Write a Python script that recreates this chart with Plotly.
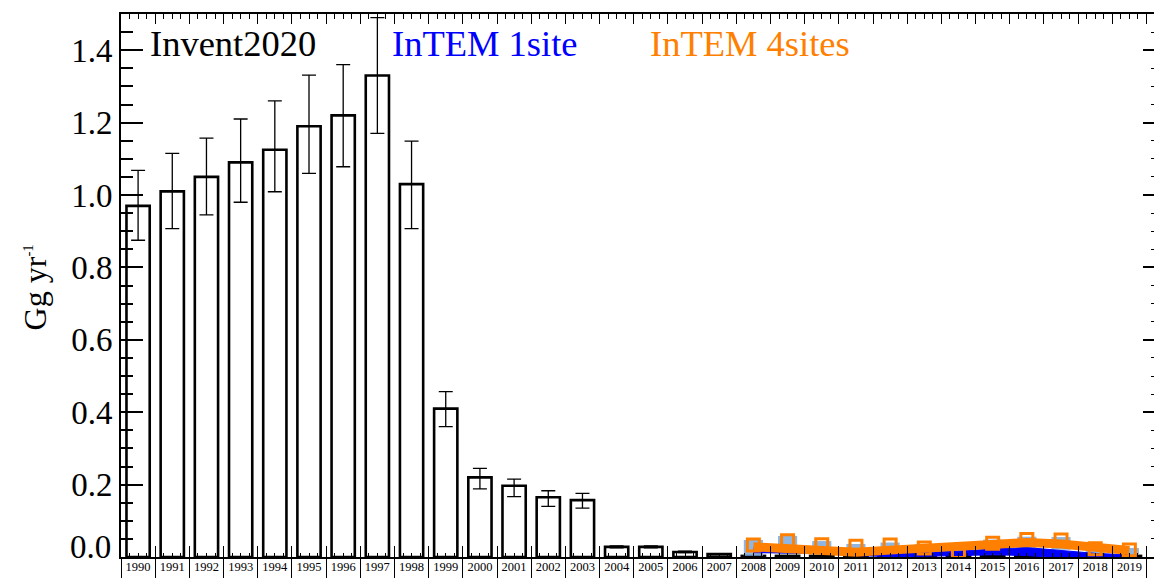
import plotly.graph_objects as go

# ---- data -------------------------------------------------------------
years = list(range(1990, 2020))

# Inventory (Invent2020) emissions and uncertainty range, Gg/yr
invent = [0.97, 1.01, 1.05, 1.09, 1.125, 1.19, 1.22, 1.33, 1.03, 0.41,
          0.22, 0.197, 0.165, 0.157, 0.028, 0.028, 0.014, 0.008,
          0.003, 0.003, 0.003, 0.003, 0.003, 0.003, 0.003, 0.003,
          0.003, 0.003, 0.003, 0.003]
invent_lo = [0.875, 0.907, 0.945, 0.98, 1.009, 1.06, 1.078, 1.17, 0.907, 0.36,
             0.188, 0.167, 0.14, 0.135, 0.025, 0.025, 0.012, 0.007,
             0.002, 0.002, 0.002, 0.002, 0.002, 0.002, 0.002, 0.002,
             0.002, 0.002, 0.002, 0.002]
invent_hi = [1.068, 1.115, 1.157, 1.21, 1.26, 1.331, 1.36, 1.49, 1.149, 0.457,
             0.245, 0.215, 0.183, 0.176, 0.031, 0.031, 0.016, 0.009,
             0.004, 0.004, 0.004, 0.004, 0.004, 0.004, 0.004, 0.004,
             0.004, 0.004, 0.004, 0.004]

intem_years = list(range(2008, 2020))
# InTEM 1site uncertainty band
intem1_lo = [0.012, 0.012, 0.010, 0.004, 0.001, 0.002, 0.004, 0.006, 0.004, -0.003, -0.004, -0.003]
intem1_hi = [0.024, 0.026, 0.022, 0.014, 0.010, 0.012, 0.016, 0.022, 0.026, 0.018, 0.010, 0.006]
# InTEM 4sites annual estimates, smoothed estimate and uncertainty range
intem4 = [0.033, 0.045, 0.034, 0.030, 0.033, 0.025, 0.015, 0.038, 0.048, 0.047, 0.023, 0.019]
intem4_smooth = [0.028, 0.024, 0.015, 0.013, 0.019, 0.024, 0.024, 0.030, 0.040, 0.036, 0.026, 0.018]
intem4_lo = [0.003, 0.008, 0.008, 0.005, 0.008, 0.008, 0.004, 0.012, 0.020, 0.020, 0.005, 0.008]
intem4_hi = [0.047, 0.058, 0.044, 0.036, 0.040, 0.035, 0.028, 0.048, 0.056, 0.055, 0.035, 0.025]

SERIF = "Liberation Serif, Times New Roman, serif"
ORANGE = "#FF8000"
BLUE = "#0000FF"

fig = go.Figure()

# inventory bars with error bars
fig.add_trace(go.Bar(
    x=years, y=invent, width=0.68,
    marker=dict(color="white", line=dict(color="black", width=2.6)),
    error_y=dict(type="data",
                 array=[h - v for h, v in zip(invent_hi, invent)],
                 arrayminus=[v - l for v, l in zip(invent, invent_lo)],
                 color="black", thickness=1.3, width=7),
    showlegend=False, hoverinfo="skip",
))

# InTEM 4sites uncertainty boxes
fig.add_trace(go.Bar(
    x=intem_years, base=intem4_lo,
    y=[h - l for h, l in zip(intem4_hi, intem4_lo)],
    width=0.56, marker=dict(color="rgba(125,168,218,0.85)", line=dict(width=0)),
    showlegend=False, hoverinfo="skip",
))

# InTEM 1site band
fig.add_trace(go.Scatter(x=intem_years, y=intem1_lo, mode="lines",
                         line=dict(color=BLUE, width=1), showlegend=False, hoverinfo="skip"))
fig.add_trace(go.Scatter(x=intem_years, y=intem1_hi, mode="lines",
                         line=dict(color=BLUE, width=1), fill="tonexty", fillcolor=BLUE,
                         showlegend=False, hoverinfo="skip"))

# InTEM 4sites smoothed line and annual markers
fig.add_trace(go.Scatter(x=intem_years, y=intem4_smooth, mode="lines",
                         line=dict(color=ORANGE, width=9), showlegend=False, hoverinfo="skip"))
fig.add_trace(go.Scatter(x=intem_years, y=intem4, mode="markers",
                         marker=dict(symbol="square-open", size=12, color=ORANGE,
                                     line=dict(color=ORANGE, width=3)),
                         showlegend=False, hoverinfo="skip"))

# invisible anchors so the decorative overlay axes are drawn
for xa, ya in [("x2", "y"), ("x3", "y"), ("x4", "y"), ("x", "y2")]:
    fig.add_trace(go.Scatter(x=[2000], y=[0.5], xaxis=xa, yaxis=ya, mode="markers",
                             marker=dict(opacity=0), showlegend=False, hoverinfo="skip"))

XR = [1989.5, 2019.72]
YR = [0, 1.5]

fig.update_layout(
    width=1154, height=578,
    margin=dict(l=121, r=0, t=14, b=21, pad=0),
    paper_bgcolor="white", plot_bgcolor="white",
    barmode="overlay",
    font=dict(family=SERIF, color="black"),
    # bottom axis: separators between the year labels
    xaxis=dict(range=XR, showgrid=False, zeroline=False, showline=True,
               linecolor="black", linewidth=2,
               tickmode="linear", tick0=1989.5, dtick=1,
               ticks="outside", ticklen=21, tickwidth=1, tickcolor="black",
               showticklabels=False, automargin=False),
    # year labels
    xaxis2=dict(range=XR, overlaying="x", anchor="y", side="bottom",
                showgrid=False, zeroline=False, showline=False,
                tickmode="linear", tick0=1990, dtick=1, ticks="",
                tickfont=dict(family=SERIF, size=12.5, color="black"),
                automargin=False),
    # top axis with inside ticks
    xaxis3=dict(range=XR, overlaying="x", anchor="y", side="top",
                showgrid=False, zeroline=False, showline=True,
                linecolor="black", linewidth=2,
                tickmode="linear", tick0=1989.5, dtick=1,
                ticks="inside", ticklen=10, tickwidth=1, tickcolor="black",
                minor=dict(tick0=1989.5, dtick=0.25, ticks="inside", ticklen=4.5,
                           tickwidth=1, tickcolor="black"),
                showticklabels=False, automargin=False),
    # bottom inside ticks
    xaxis4=dict(range=XR, overlaying="x", anchor="y", side="bottom",
                showgrid=False, zeroline=False, showline=False,
                tickmode="linear", tick0=1989.5, dtick=1,
                ticks="inside", ticklen=11, tickwidth=1, tickcolor="black",
                minor=dict(tick0=1989.5, dtick=0.25, ticks="inside", ticklen=4.5,
                           tickwidth=1, tickcolor="black"),
                showticklabels=False, automargin=False),
    yaxis=dict(range=YR, showgrid=False, zeroline=False, showline=True,
               linecolor="black", linewidth=2,
               tickmode="array", tickvals=[0.2, 0.4, 0.6, 0.8, 1.0, 1.2, 1.4],
               ticktext=["0.2", "0.4", "0.6", "0.8", "1.0", "1.2", "1.4"],
               ticks="inside", ticklen=22, tickwidth=1.5, tickcolor="black",
               minor=dict(tickmode="linear", tick0=0, dtick=0.05, ticks="inside", ticklen=12,
                          tickwidth=1.5, tickcolor="black"),
               tickfont=dict(family=SERIF, size=33, color="black"),
               automargin=False),
    yaxis2=dict(range=YR, overlaying="y", anchor="x", side="right",
                showgrid=False, zeroline=False, showline=False,
                tickmode="linear", tick0=0, dtick=0.2,
                ticks="inside", ticklen=11, tickwidth=1.5, tickcolor="black",
                minor=dict(tick0=0, dtick=0.05, ticks="inside", ticklen=3,
                           tickwidth=1, tickcolor="black"),
                showticklabels=False, automargin=False),
)

annotations = [
    # bottom label of the y axis, raised clear of the x axis
    dict(text="0.0", x=0, xref="paper", xanchor="right", xshift=-8,
         y=0, yref="y", yanchor="middle", yshift=10, showarrow=False,
         font=dict(family=SERIF, size=33, color="black")),
    # y-axis title
    dict(text="Gg yr<sup><span style='font-size:15px'>-1</span></sup>",
         x=-0.083, xref="paper", xanchor="center",
         y=0.497, yref="paper", yanchor="middle", textangle=-90, showarrow=False,
         font=dict(family=SERIF, size=32, color="black")),
    # series labels
    dict(text="Invent2020", x=0.026, xref="paper", xanchor="left",
         y=0.945, yref="paper", yanchor="middle", showarrow=False,
         font=dict(family=SERIF, size=36.5, color="black")),
    dict(text="InTEM 1site", x=(390 - 121) / 1033, xref="paper", xanchor="left",
         y=0.945, yref="paper", yanchor="middle", showarrow=False,
         font=dict(family=SERIF, size=36.5, color=BLUE)),
    dict(text="InTEM 4sites", x=(648 - 121) / 1033, xref="paper", xanchor="left",
         y=0.945, yref="paper", yanchor="middle", showarrow=False,
         font=dict(family=SERIF, size=36.5, color=ORANGE)),
]
fig.update_layout(annotations=annotations)

fig.write_html("out.html")
